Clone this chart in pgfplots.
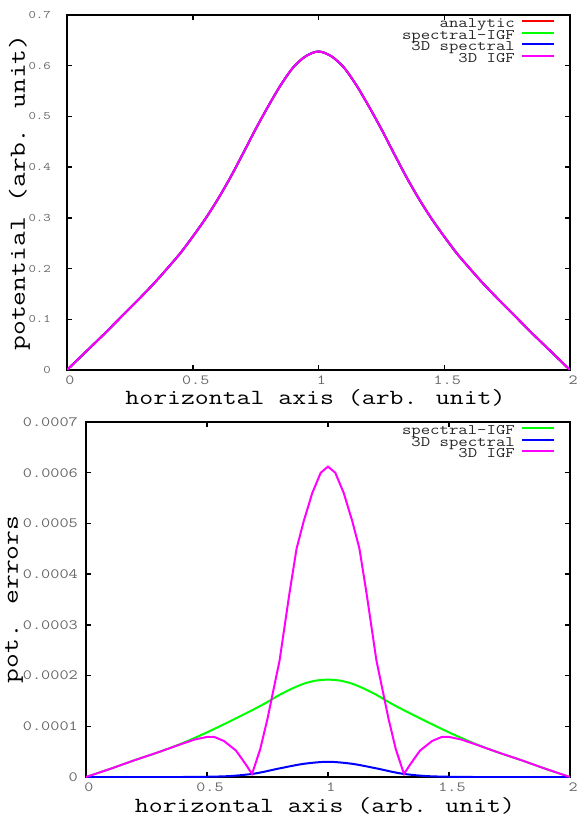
\documentclass[border=0pt]{standalone}
\usepackage{fontspec}
\setmainfont{Liberation Mono}
\newfontfamily\gp{Latin Modern Mono}[FakeStretch=1.25]
\usepackage{pgfplots}
\pgfplotsset{compat=1.18}
\definecolor{gpred}{RGB}{255,0,0}
\definecolor{gpgreen}{RGB}{0,255,0}
\definecolor{gpblue}{RGB}{0,0,255}
\definecolor{gpmag}{RGB}{255,0,255}
\pgfplotsset{
  gp/.style={
    scale only axis,
    /pgf/number format/assume math mode=true,
    axis line style={line width=2.2pt},
    tick align=inside,
    major tick length=5pt,
    major tick style={line width=1.5pt, black},
    xmin=0, xmax=2,
    xtick={0,0.5,1,1.5,2},
    xticklabels={0,0.5,1,1.5,2},
    xticklabel style={font=\gp\fontsize{14}{14}\selectfont, text=black!60, inner sep=0pt, anchor=north, xshift=3pt, yshift=-6pt},
    every axis x label/.style={at={(axis description cs:0.5,0)}, anchor=base, yshift=-35pt, xshift=-3pt, font=\gp\fontsize{21.6}{22}\selectfont},
    xlabel={horizontal axis (arb. unit)},
    legend cell align=right,
    legend plot pos=right,
    legend image code/.code={\draw[#1, line width=2pt] (0pt,3.5pt) -- (32pt,3.5pt);},
    legend style={draw=none, fill=none, at={(rel axis cs:1,1)}, anchor=north east, xshift=-15pt, yshift=-4pt,
      inner sep=0pt, row sep=0pt, column sep=6pt, font=\gp\fontsize{14.6}{15}\selectfont, text=black!85,
      nodes={inner sep=0pt, text height=8.5pt, text depth=3pt}},
  }
}
\begin{document}
\begin{tikzpicture}
\begin{axis}[gp,
  at={(67pt,446pt)}, anchor=south west, width=503pt, height=355pt,
  ymin=0, ymax=0.7,
  ytick={0,0.1,0.2,0.3,0.4,0.5,0.6,0.7},
  yticklabels={0,0.1,0.2,0.3,0.4,0.5,0.6,0.7},
  yticklabel style={font=\gp\fontsize{11.5}{11.5}\selectfont, text=black!60, inner sep=0pt, anchor=east, xshift=-16pt},
  every axis y label/.style={at={(axis description cs:-0.0944,0.5)}, rotate=90, anchor=center, font=\gp\fontsize{23}{23}\selectfont},
  ylabel={potential (arb. unit)},
]
\addplot[gpred, line width=2pt, smooth] coordinates {
(0,0) (0.05,0.024) (0.1,0.048) (0.15,0.072) (0.2,0.097) (0.25,0.122) (0.3,0.147) (0.35,0.173) (0.4,0.201) (0.45,0.230)
(0.5,0.263) (0.55,0.298) (0.6,0.337) (0.65,0.380) (0.7,0.427) (0.75,0.475) (0.8,0.520) (0.85,0.562) (0.9,0.597) (0.95,0.619)
(1.0,0.628) (1.05,0.619) (1.1,0.597) (1.15,0.562) (1.2,0.520) (1.25,0.475) (1.3,0.427) (1.35,0.380) (1.4,0.337) (1.45,0.298)
(1.5,0.263) (1.55,0.230) (1.6,0.201) (1.65,0.173) (1.7,0.147) (1.75,0.122) (1.8,0.097) (1.85,0.072) (1.9,0.048) (1.95,0.024) (2,0)};
\addlegendentry{analytic}
\addplot[gpgreen, line width=2pt, smooth] coordinates {
(0,0) (0.05,0.024) (0.1,0.048) (0.15,0.072) (0.2,0.097) (0.25,0.122) (0.3,0.147) (0.35,0.173) (0.4,0.201) (0.45,0.230)
(0.5,0.263) (0.55,0.298) (0.6,0.337) (0.65,0.380) (0.7,0.427) (0.75,0.475) (0.8,0.520) (0.85,0.562) (0.9,0.597) (0.95,0.619)
(1.0,0.628) (1.05,0.619) (1.1,0.597) (1.15,0.562) (1.2,0.520) (1.25,0.475) (1.3,0.427) (1.35,0.380) (1.4,0.337) (1.45,0.298)
(1.5,0.263) (1.55,0.230) (1.6,0.201) (1.65,0.173) (1.7,0.147) (1.75,0.122) (1.8,0.097) (1.85,0.072) (1.9,0.048) (1.95,0.024) (2,0)};
\addlegendentry{spectral-IGF}
\addplot[gpblue, line width=2pt, smooth] coordinates {
(0,0) (0.05,0.024) (0.1,0.048) (0.15,0.072) (0.2,0.097) (0.25,0.122) (0.3,0.147) (0.35,0.173) (0.4,0.201) (0.45,0.230)
(0.5,0.263) (0.55,0.298) (0.6,0.337) (0.65,0.380) (0.7,0.427) (0.75,0.475) (0.8,0.520) (0.85,0.562) (0.9,0.597) (0.95,0.619)
(1.0,0.628) (1.05,0.619) (1.1,0.597) (1.15,0.562) (1.2,0.520) (1.25,0.475) (1.3,0.427) (1.35,0.380) (1.4,0.337) (1.45,0.298)
(1.5,0.263) (1.55,0.230) (1.6,0.201) (1.65,0.173) (1.7,0.147) (1.75,0.122) (1.8,0.097) (1.85,0.072) (1.9,0.048) (1.95,0.024) (2,0)};
\addlegendentry{3D spectral}
\addplot[gpmag, line width=2pt, smooth] coordinates {
(0,0) (0.05,0.024) (0.1,0.048) (0.15,0.072) (0.2,0.097) (0.25,0.122) (0.3,0.147) (0.35,0.173) (0.4,0.201) (0.45,0.230)
(0.5,0.263) (0.55,0.298) (0.6,0.337) (0.65,0.380) (0.7,0.427) (0.75,0.475) (0.8,0.520) (0.85,0.562) (0.9,0.597) (0.95,0.619)
(1.0,0.628) (1.05,0.619) (1.1,0.597) (1.15,0.562) (1.2,0.520) (1.25,0.475) (1.3,0.427) (1.35,0.380) (1.4,0.337) (1.45,0.298)
(1.5,0.263) (1.55,0.230) (1.6,0.201) (1.65,0.173) (1.7,0.147) (1.75,0.122) (1.8,0.097) (1.85,0.072) (1.9,0.048) (1.95,0.024) (2,0)};
\addlegendentry{3D IGF}
\end{axis}
\begin{axis}[gp,
  at={(86pt,39pt)}, anchor=south west, width=484pt, height=355pt,
  ymin=0, ymax=7,
  ytick={0,1,2,3,4,5,6,7},
  yticklabels={0,0.0001,0.0002,0.0003,0.0004,0.0005,0.0006,0.0007},
  yticklabel style={font=\gp\fontsize{14.2}{14.2}\selectfont, text=black!60, inner sep=0pt, anchor=east, xshift=-8pt},
  every axis y label/.style={at={(axis description cs:-0.1488,0.5)}, rotate=90, anchor=center, font=\gp\fontsize{23}{23}\selectfont},
  ylabel={pot. errors},
]
\addplot[gpgreen, line width=2pt, smooth] coordinates {
(0,0) (0.1,0.16) (0.2,0.33) (0.3,0.49) (0.4,0.67) (0.5,0.88) (0.6,1.11) (0.7,1.35) (0.75,1.48) (0.8,1.62) (0.85,1.74) (0.9,1.84) (0.95,1.90)
(1,1.92) (1.05,1.90) (1.1,1.84) (1.15,1.74) (1.2,1.62) (1.25,1.48) (1.3,1.35) (1.4,1.11) (1.5,0.88) (1.6,0.67) (1.7,0.49) (1.8,0.33) (1.9,0.16) (2,0)};
\addlegendentry{spectral-IGF}
\addplot[gpblue, line width=2pt, smooth] coordinates {
(0,0) (0.4,0) (0.5,0.005) (0.6,0.02) (0.7,0.07) (0.8,0.17) (0.9,0.26) (1,0.30)
(1.1,0.26) (1.2,0.17) (1.3,0.07) (1.4,0.02) (1.5,0.005) (1.6,0) (2,0)};
\addlegendentry{3D spectral}
\addplot[gpmag, line width=2pt] coordinates {
(0,0) (0.1,0.16) (0.2,0.33) (0.3,0.49) (0.4,0.66) (0.45,0.74) (0.5,0.79) (0.53,0.79) (0.57,0.71) (0.62,0.52) (0.66,0.25) (0.686,0.06)
(0.72,0.55) (0.75,1.15) (0.8,2.3) (0.84,3.6) (0.87,4.5) (0.9,5.05) (0.935,5.6) (0.97,6.0) (1.0,6.12)
(1.03,6.0) (1.065,5.6) (1.1,5.05) (1.13,4.5) (1.16,3.6) (1.2,2.3) (1.25,1.15) (1.28,0.55) (1.314,0.06)
(1.34,0.25) (1.38,0.52) (1.43,0.71) (1.47,0.79) (1.5,0.79) (1.55,0.74) (1.6,0.66) (1.7,0.49) (1.8,0.33) (1.9,0.16) (2,0)};
\addlegendentry{3D IGF}
\end{axis}
\pgfresetboundingbox
\useasboundingbox (0pt,0pt) rectangle (576pt,816pt);
\end{tikzpicture}
\end{document}
